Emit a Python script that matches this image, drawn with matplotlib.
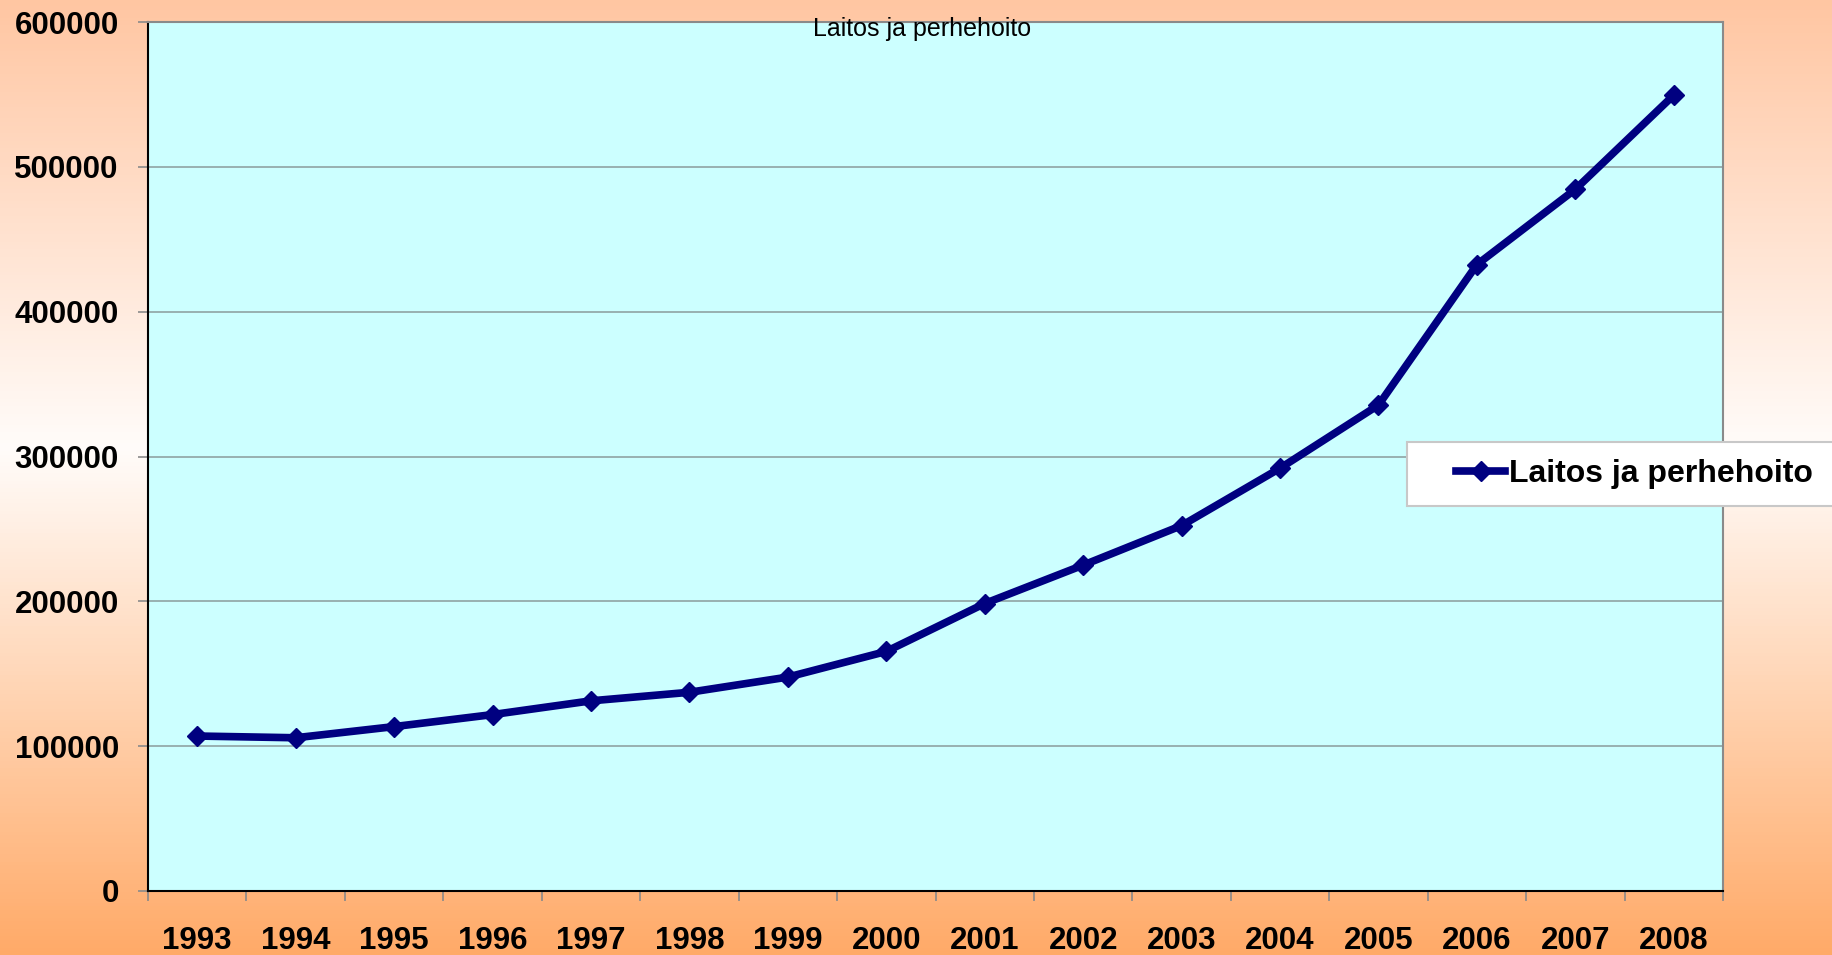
import numpy as np
import matplotlib
matplotlib.use('Agg')
import matplotlib.pyplot as plt
from matplotlib.colors import LinearSegmentedColormap
from matplotlib.patches import Rectangle
from matplotlib.ticker import FixedLocator, NullFormatter

plt.rcParams['font.family'] = ['Liberation Sans', 'DejaVu Sans']

years = ['1993', '1994', '1995', '1996', '1997', '1998', '1999', '2000',
         '2001', '2002', '2003', '2004', '2005', '2006', '2007', '2008']
values = [107000, 105800, 113500, 121800, 131300, 137200, 147700, 165400,
          198500, 225000, 252300, 291900, 335500, 432500, 484500, 549500]
series_name = 'Laitos ja perhehoito'
yticks = [0, 100000, 200000, 300000, 400000, 500000, 600000]

W, H = 1832, 955
fig = plt.figure(figsize=(W / 100, H / 100), dpi=100)

# taustan liukuväri (persikka -> valkoinen -> oranssi)
bg = fig.add_axes([0, 0, 1, 1], zorder=-2)
grad = LinearSegmentedColormap.from_list(
    'bg', [(0.0, '#FFC6A2'), (0.47, '#FFFCFA'), (1.0, '#FFAA68')])
bg.imshow(np.linspace(0, 1, 256).reshape(-1, 1), aspect='auto', cmap=grad,
          extent=[0, 1, 1, 0])
bg.set_axis_off()

left, right, top, bottom = 148, 1723, 22, 891
ax = fig.add_axes([left / W, 1 - bottom / H, (right - left) / W, (bottom - top) / H])
ax.set_facecolor('#CCFFFF')

x = np.arange(len(years))
ax.plot(x, values, color='#000080', lw=5.5, marker='D', markersize=10,
        label=series_name, zorder=3, solid_joinstyle='round')

ax.set_xlim(-0.5, len(years) - 0.5)
ax.set_ylim(0, 600000)
ax.set_yticks(yticks)
ax.set_yticklabels([str(v) for v in yticks], fontsize=22.5, fontweight='bold')
ax.yaxis.grid(True, color='#8FA3A3', lw=1.2)
ax.set_axisbelow(True)

# x-akselin jakoviivat luokkien rajoille, nimet keskelle
ax.xaxis.set_major_locator(FixedLocator(np.arange(-0.5, len(years), 1.0)))
ax.xaxis.set_major_formatter(NullFormatter())
ax.xaxis.set_minor_locator(FixedLocator(x))
ax.set_xticklabels(years, minor=True, fontsize=22.5, fontweight='bold')
ax.tick_params(axis='x', which='major', length=7, width=1.2, color='#8A8A8A')
ax.tick_params(axis='x', which='minor', length=0, pad=25)
ax.tick_params(axis='y', length=7, width=1.2, color='#8A8A8A', pad=14)

ax.spines['left'].set_color('black')
ax.spines['bottom'].set_color('black')
ax.spines['top'].set_color('#8A8A8A')
ax.spines['right'].set_color('#8A8A8A')
for s in ax.spines.values():
    s.set_linewidth(1.5)

fig.text(922 / W, 1 - 29 / H, series_name, ha='center', va='center',
         fontsize=18, zorder=5)

# selitelaatikko ulottuu kuvan reunan yli
fig.patches.append(Rectangle((1407 / W, 1 - 506 / H), 500 / W, 64 / H,
                             transform=fig.transFigure, facecolor='white',
                             edgecolor='#C8C8C8', lw=1.5, zorder=4))
leg = fig.legend(loc='center left', bbox_to_anchor=(1440 / W, 1 - 474 / H),
                 frameon=False, prop={'size': 23, 'weight': 'bold'},
                 handlelength=1.55, handletextpad=0.1, borderpad=0)
leg.set_zorder(6)

fig.savefig('out.png', dpi=100)
